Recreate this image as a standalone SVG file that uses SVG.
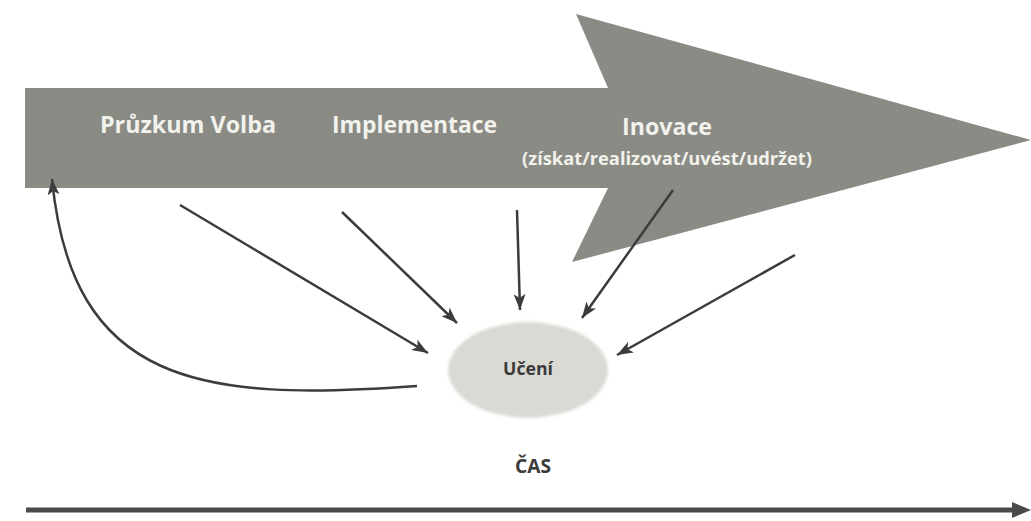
<svg xmlns="http://www.w3.org/2000/svg" width="1031" height="521" viewBox="0 0 1031 521">
<style>
.lbl{font-family:"Open Sans","Liberation Sans",sans-serif;font-weight:bold;fill:#f2f2ec}
.dark{font-family:"Open Sans","Liberation Sans",sans-serif;font-weight:bold;fill:#3a3a3a}
.conn{fill:none;stroke:#3c3c3c;stroke-width:2.5;marker-end:url(#ah)}
</style>
<defs>
<marker id="ah" markerUnits="userSpaceOnUse" markerWidth="18" markerHeight="12" refX="16" refY="6" orient="auto">
<path d="M0,0 L16,6 L0,12 L4,6 Z" fill="#3c3c3c"/>
</marker>
<filter id="soft" x="-10%" y="-10%" width="120%" height="120%"><feGaussianBlur stdDeviation="1.5"/></filter>
</defs>
<rect width="1031" height="521" fill="#ffffff"/>
<g id="bigarrow">
<polygon points="25,88 608,88 576,14 1031,140 572,262 608,188 25,188" fill="#8b8b85"/>
<text class="lbl" x="100" y="133" font-size="24" textLength="176" lengthAdjust="spacingAndGlyphs">Průzkum Volba</text>
<text class="lbl" x="332" y="133" font-size="24" textLength="165" lengthAdjust="spacingAndGlyphs">Implementace</text>
<text class="lbl" x="622" y="135" font-size="24" textLength="90" lengthAdjust="spacingAndGlyphs">Inovace</text>
<text class="lbl" x="522" y="165" font-size="17" textLength="290" lengthAdjust="spacingAndGlyphs">(získat/realizovat/uvést/udržet)</text>
</g>
<g id="uceni">
<ellipse cx="528" cy="370" rx="80" ry="48" fill="#dadad4" filter="url(#soft)"/>
<text class="dark" x="528" y="375" font-size="18" text-anchor="middle" textLength="50" lengthAdjust="spacingAndGlyphs">Učení</text>
</g>
<g id="cas">
<text class="dark" x="533" y="473" font-size="20" text-anchor="middle" textLength="36" lengthAdjust="spacingAndGlyphs">ČAS</text>
</g>
<g id="connectors">
<line class="conn" x1="180" y1="205" x2="428" y2="353"/>
<line class="conn" x1="342" y1="212" x2="457" y2="323"/>
<line class="conn" x1="517" y1="210" x2="520" y2="310"/>
<line class="conn" x1="673" y1="190" x2="582" y2="318"/>
<line class="conn" x1="795" y1="255" x2="617" y2="355"/>
<path class="conn" d="M417,386 C200,402 72,385 52,179"/>
</g>
<g id="timeaxis">
<line x1="26" y1="510" x2="1016" y2="510" stroke="#4a4a4a" stroke-width="5"/>
<polygon points="1012,502 1031,510 1012,518" fill="#4a4a4a"/>
</g>
</svg>
